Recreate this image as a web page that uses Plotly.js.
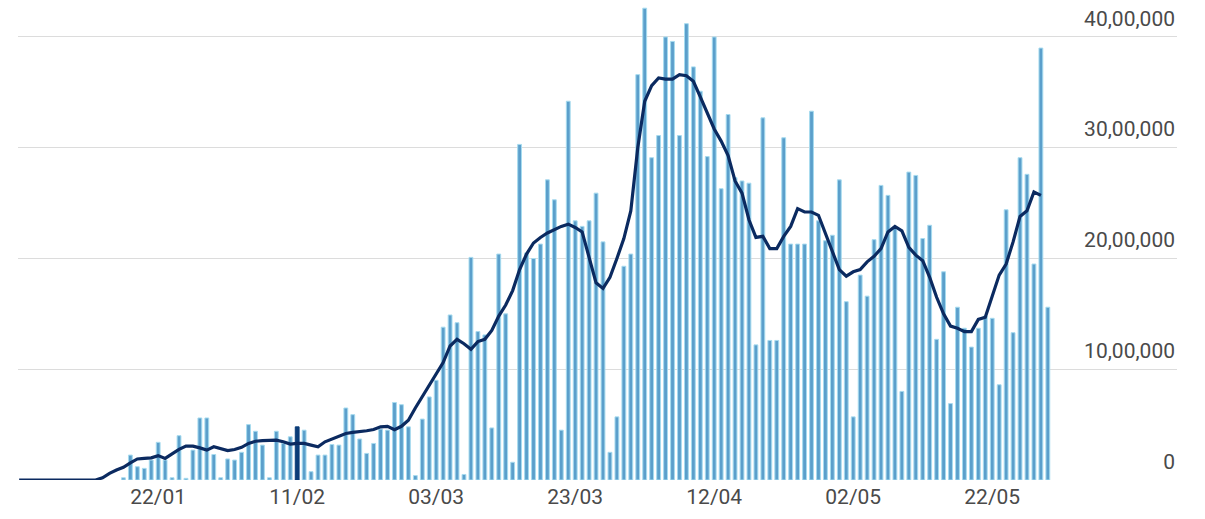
<!DOCTYPE html>
<html>
<head>
<meta charset="utf-8">
<script src="https://cdn.plot.ly/plotly-3.0.1.min.js"></script>
<style>
  html, body { margin: 0; padding: 0; background: #ffffff; }
  #chart { width: 1205px; height: 519px; }
</style>
</head>
<body>
<div id="chart"></div>
<script>
// ---- data (daily vaccine doses, India, 2021) ----
const barStartDate = '2021-01-17';
const dailyDoses = [
  20000, 225000, 120000, 105000, 180000, 340000, 180000, 20000, 400000, 15000,
  270000, 560000, 560000, 230000, 20000, 190000, 180000, 250000, 500000, 440000,
  315000, 20000, 440000, 330000, 390000, 480000, 450000, 75000, 225000, 225000,
  320000, 315000, 650000, 590000, 370000, 240000, 330000, 460000, 450000, 700000,
  680000, 480000, 40000, 550000, 750000, 900000, 1380000, 1490000, 1420000, 50000,
  2010000, 1340000, 1310000, 470000, 2040000, 1500000, 160000, 3030000, 2050000, 2000000,
  2130000, 2710000, 2530000, 450000, 3420000, 2340000, 2290000, 2340000, 2590000, 2150000,
  250000, 570000, 1930000, 2040000, 3660000, 4260000, 2910000, 3110000, 4000000, 3960000,
  3110000, 4120000, 3730000, 3510000, 2920000, 4000000, 2630000, 3300000, 2730000, 2700000,
  2680000, 1220000, 3270000, 1260000, 1260000, 3090000, 2130000, 2130000, 2130000, 3330000,
  2340000, 2160000, 2210000, 2710000, 1610000, 570000, 1850000, 1660000, 2170000, 2660000,
  2570000, 2280000, 800000, 2780000, 2750000, 2180000, 2300000, 1270000, 1880000, 690000,
  1560000, 1370000, 1200000, 1370000, 1480000, 1460000, 860000, 2440000, 1330000, 2910000,
  2760000, 1950000, 3900000, 1560000
];
const highlightedDate = '2021-02-11';

const avgStartDate = '2021-01-02';
const sevenDayAverage = [
  0, 0, 0, 0, 0, 0, 0, 0, 0, 0, 0, 0, 20000, 60000, 90000,
  115000, 155000, 190000, 195000, 200000, 220000, 195000, 235000, 276000, 306000,
  306000, 290000, 270000, 300000, 280000, 265000, 275000, 295000, 330000, 350000,
  355000, 360000, 360000, 345000, 325000, 330000, 330000, 315000, 300000, 345000,
  370000, 400000, 420000, 430000, 435000, 445000, 456000, 480000, 485000, 455000,
  485000, 540000, 650000, 750000, 850000, 960000, 1060000, 1210000, 1270000, 1230000,
  1180000, 1250000, 1270000, 1350000, 1480000, 1580000, 1710000, 1900000, 2040000, 2140000,
  2190000, 2230000, 2260000, 2290000, 2310000, 2280000, 2240000, 2000000, 1780000, 1730000,
  1830000, 2000000, 2180000, 2430000, 3000000, 3420000, 3560000, 3630000, 3620000, 3620000,
  3660000, 3650000, 3600000, 3460000, 3320000, 3170000, 3060000, 2930000, 2700000, 2590000,
  2350000, 2190000, 2200000, 2090000, 2090000, 2200000, 2290000, 2450000, 2420000, 2420000,
  2390000, 2220000, 2060000, 1900000, 1840000, 1880000, 1900000, 1970000, 2020000, 2090000,
  2240000, 2290000, 2250000, 2100000, 2030000, 1980000, 1830000, 1650000, 1500000, 1390000,
  1370000, 1340000, 1340000, 1450000, 1470000, 1650000, 1850000, 1950000, 2150000, 2380000,
  2430000, 2600000, 2570000
];

const xTickDates = ['2021-01-22', '2021-02-11', '2021-03-03', '2021-03-23', '2021-04-12', '2021-05-02', '2021-05-22'];
const xTickLabels = ['22/01', '11/02', '03/03', '23/03', '12/04', '02/05', '22/05'];
const yTickValues = [0, 1000000, 2000000, 3000000, 4000000];
const yTickLabels = ['0', '10,00,000', '20,00,000', '30,00,000', '40,00,000'];

// ---- helpers ----
function dateSeq(start, n) {
  const out = [];
  const d0 = new Date(start + 'T00:00:00Z');
  for (let i = 0; i < n; i++) {
    const d = new Date(d0.getTime() + i * 86400000);
    out.push(d.toISOString().slice(0, 10));
  }
  return out;
}

const barDates = dateSeq(barStartDate, dailyDoses.length);
const avgDates = dateSeq(avgStartDate, sevenDayAverage.length);
const barColors = barDates.map(d => d === highlightedDate ? '#0b3c78' : '#5b9fcb');
const barLineColors = barDates.map(d => d === highlightedDate ? '#0b3c78' : '#a6dbef');

const traces = [
  {
    type: 'bar',
    x: barDates,
    y: dailyDoses,
    width: 0.55 * 86400000,
    marker: { color: barColors, line: { color: barLineColors, width: 1 } },
    hoverinfo: 'x+y',
    showlegend: false
  },
  {
    type: 'scatter',
    mode: 'lines',
    x: avgDates,
    y: sevenDayAverage,
    line: { color: '#0b2a60', width: 3.2, shape: 'linear' },
    hoverinfo: 'x+y',
    showlegend: false
  }
];

const font = { family: 'Roboto, Arial, sans-serif', size: 21, color: '#4a4a4a' };

const layout = {
  width: 1205,
  height: 519,
  margin: { l: 18, r: 28, t: 0, b: 39, pad: 0 },
  paper_bgcolor: '#ffffff',
  plot_bgcolor: '#ffffff',
  font: font,
  bargap: 0,
  xaxis: {
    type: 'date',
    range: ['2021-01-01 20:00', '2021-06-17 14:00'],
    tickvals: xTickDates,
    ticktext: xTickLabels,
    showgrid: false,
    zeroline: false,
    showline: false,
    ticks: '',
    ticklabelstandoff: 2,
    tickfont: font,
    fixedrange: true
  },
  yaxis: {
    side: 'right',
    range: [0, 4334000],
    tickvals: yTickValues,
    ticktext: yTickLabels,
    ticklabelposition: 'inside top',
    ticklabelshift: -4,
    ticklabelstandoff: -1,
    showgrid: true,
    gridcolor: '#dcdcdc',
    gridwidth: 1,
    zeroline: false,
    showline: false,
    ticks: '',
    tickfont: font,
    fixedrange: true
  }
};

Plotly.newPlot('chart', traces, layout, { displayModeBar: false, staticPlot: true });
</script>
</body>
</html>
